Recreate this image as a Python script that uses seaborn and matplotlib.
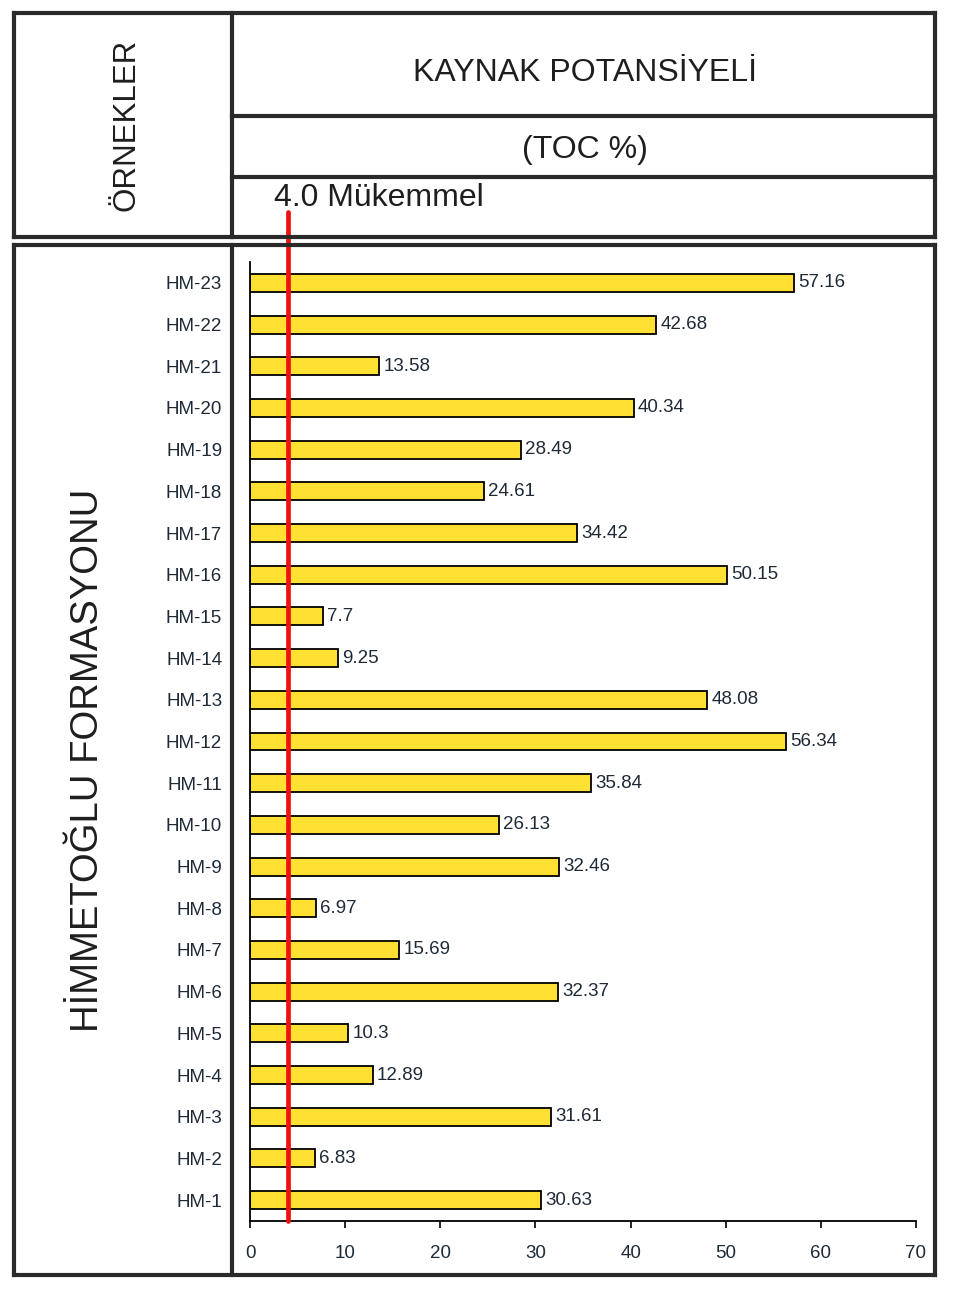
import matplotlib
matplotlib.use("Agg")
import matplotlib.pyplot as plt
import seaborn as sns
import pandas as pd
from matplotlib.lines import Line2D

# ---- data ----
samples = ["HM-23", "HM-22", "HM-21", "HM-20", "HM-19", "HM-18", "HM-17", "HM-16",
           "HM-15", "HM-14", "HM-13", "HM-12", "HM-11", "HM-10", "HM-9", "HM-8",
           "HM-7", "HM-6", "HM-5", "HM-4", "HM-3", "HM-2", "HM-1"]
toc = [57.16, 42.68, 13.58, 40.34, 28.49, 24.61, 34.42, 50.15,
       7.7, 9.25, 48.08, 56.34, 35.84, 26.13, 32.46, 6.97,
       15.69, 32.37, 10.3, 12.89, 31.61, 6.83, 30.63]
x_ticks = [0, 10, 20, 30, 40, 50, 60, 70]
threshold = 4.0
threshold_label = "4.0 Mükemmel"
header_title = "KAYNAK POTANSİYELİ"
header_unit = "(TOC %)"
col_label = "ÖRNEKLER"
formation_label = "HİMMETOĞLU FORMASYONU"

sns.set_theme(style="white")
plt.rcParams["font.family"] = ["Liberation Sans", "DejaVu Sans"]

W, H = 960, 1304
fig = plt.figure(figsize=(W / 100, H / 100), dpi=100)
fig.patch.set_facecolor("white")

def fx(x):
    return x / W

def fy(y):
    return 1 - y / H

# ---- table frame lines ----
frame_c = "#2a2a2a"
frame_lw = 3.0

def fline(x0, y0, x1, y1):
    fig.add_artist(Line2D([fx(x0), fx(x1)], [fy(y0), fy(y1)], transform=fig.transFigure,
                          color=frame_c, lw=frame_lw, solid_capstyle="projecting"))

def frect(x0, y0, x1, y1):
    fline(x0, y0, x1, y0)
    fline(x1, y0, x1, y1)
    fline(x1, y1, x0, y1)
    fline(x0, y1, x0, y0)

frect(14, 13, 935, 237)
fline(232, 13, 232, 237)
fline(232, 116, 935, 116)
fline(232, 177, 935, 177)
frect(14, 245, 935, 1275)
fline(232, 245, 232, 1275)

# ---- header texts ----
txt_c = "#1e1e1e"
fig.text(fx(127), fy(125), col_label, rotation=90, ha="center", va="center",
         fontsize=22.5, color=txt_c)
fig.text(fx(585), fy(73), header_title, ha="center", va="center", fontsize=23, color=txt_c)
fig.text(fx(585), fy(150), header_unit, ha="center", va="center", fontsize=23, color=txt_c)
fig.text(fx(274), fy(198), threshold_label, ha="left", va="center", fontsize=23, color=txt_c)
fig.text(fx(88), fy(760), formation_label, rotation=90, ha="center", va="center",
         fontsize=27.5, color=txt_c)

# ---- bar chart ----
ax_l, ax_r, ax_t, ax_b = 250, 916, 262, 1221
ax = fig.add_axes([fx(ax_l), fy(ax_b), fx(ax_r - ax_l), (ax_b - ax_t) / H])
df = pd.DataFrame({"sample": samples, "toc": toc})
sns.barplot(data=df, y="sample", x="toc", order=samples, orient="h", width=0.43,
            color="#FFE033", saturation=1, edgecolor="black", linewidth=1.3, ax=ax)
ax.bar_label(ax.containers[0], labels=[f"{v:g}" for v in toc], padding=3,
             fontsize=13.5, color="#1e2a36")

ax.set_xlim(0, 70)
ax.set_ylim(len(samples) - 0.5, -0.5)
ax.set_xticks(x_ticks)
ax.set_xticklabels([str(t) for t in x_ticks])
ax.set_xlabel("")
ax.set_ylabel("")
for s in ["top", "right"]:
    ax.spines[s].set_visible(False)
for s in ["left", "bottom"]:
    ax.spines[s].set_visible(True)
    ax.spines[s].set_color("black")
    ax.spines[s].set_linewidth(1.3)
ax.tick_params(axis="x", direction="out", length=5, width=1.2, color="black",
               pad=12, labelsize=13.5, labelcolor="#1e2a36", bottom=True)
ax.tick_params(axis="y", length=0, pad=20, labelsize=13.5, labelcolor="#1e2a36")
ax.set_facecolor("white")

# threshold line extends up into the header
ymax = (ax_b - 212) / (ax_b - ax_t)
ax.axvline(threshold, ymin=0, ymax=ymax, color="#F01010", lw=3.4, clip_on=False, zorder=5)

fig.savefig("out.png", dpi=100, facecolor="white")
